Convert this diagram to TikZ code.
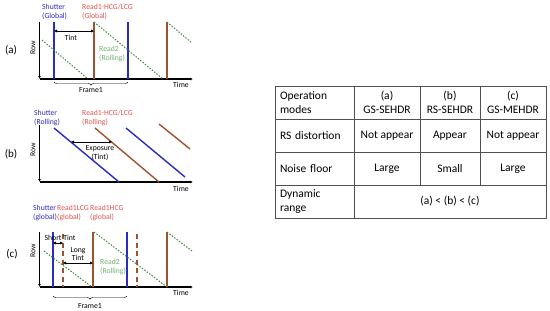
\documentclass[tikz,border=0pt]{standalone}
\usepackage{fontspec}
\setmainfont{Carlito}
\usetikzlibrary{arrows.meta,positioning,decorations.pathreplacing}
\definecolor{shblue}{HTML}{2B2BC0}
\definecolor{rdbrown}{HTML}{A0522D}
\definecolor{rdred}{HTML}{E0524E}
\definecolor{rdgreen}{HTML}{3E8E3E}
\definecolor{lbgreen}{HTML}{6FAF6F}
\definecolor{tabgray}{HTML}{505050}

\begin{document}
\begin{tikzpicture}[
 x=1pt,y=-1pt,>=Latex,
 axis/.style={line width=1.2pt,-{Latex[length=3pt,width=3pt]}},
 shut/.style={shblue,line width=1.4pt},
 rdone/.style={rdbrown,line width=1.4pt},
 rdtwo/.style={rdgreen,line width=1pt,dash pattern=on 1.5pt off 1.5pt},
 tint/.style={thin,{Latex[length=3pt,width=3pt]}-{Latex[length=3pt,width=3pt]}},
 lbl/.style={font=\fontsize{7.7}{8.7}\selectfont,inner sep=0pt,align=left},
 tag/.style={font=\fontsize{11}{13}\selectfont,inner sep=0pt},
 span/.style={decorate,decoration={brace,mirror,amplitude=3pt},thin},
 cell/.style={draw=tabgray,line width=0.7pt,anchor=north west,minimum height=33pt,inner sep=0pt,outer sep=0pt,align=center,font=\fontsize{11.5}{13.5}\selectfont},
 hcell/.style={cell,text width=69pt,inner xsep=5pt,align=left}
]
\useasboundingbox (0,0) rectangle (550,311);

% (a) GS-SEHDR
\node[tag] (taga) at (11,50) {(a)};
\coordinate (aT) at (39.5,22);
\coordinate (aO) at (39.5,79);
\coordinate (aX) at (193,79);
\draw[axis] (aT) -- (aO);
\draw[axis] (aO) -- (aX);
\node[lbl,rotate=90] (rowa) at (33,48) {Row};
\node[lbl] (timea) at (181,85) {Time};
\foreach \x in {54,128} \draw[shut] (\x,22) -- (\x,79);
\foreach \x in {94,167} \draw[rdone] (\x,22) -- (\x,79);
\draw[rdtwo] (42,40) -- (88,79);
\draw[rdtwo] (94,22) -- (163,79);
\draw[rdtwo] (167,22) -- (192,43);
\node[lbl,shblue,anchor=north west] (shuta) at (42,4) {Shutter\\(Global)};
\node[lbl,rdred,anchor=north west] (reada) at (82,4) {Read1-HCG/LCG\\(Global)};
\node[lbl,lbgreen,anchor=north west] (readb) at (99,46) {Read2\\(Rolling)};
\draw[tint] (54,31) -- (94,31);
\node[lbl] (tinta) at (71,38) {Tint};
\draw[span] (54,82) -- (128,82);
\node[lbl] (framea) at (91,90) {Frame1};

% (b) RS-SEHDR
\node[tag] (tagb) at (11,154) {(b)};
\coordinate (bT) at (39.5,125);
\coordinate (bO) at (39.5,182);
\coordinate (bX) at (193,182);
\draw[axis] (bT) -- (bO);
\draw[axis] (bO) -- (bX);
\node[lbl,rotate=90] (rowb) at (33,150) {Row};
\node[lbl] (timeb) at (181,189) {Time};
\draw[shut] (54,128) -- (119,182);
\draw[shut] (126,128) -- (185,177);
\draw[rdone] (95,128) -- (159,182);
\draw[rdone] (159,124) -- (190,149);
\node[lbl,shblue,anchor=north west] (shutb) at (34,110) {Shutter\\(Rolling)};
\node[lbl,rdred,anchor=north west] (readc) at (82,110) {Read1-HCG/LCG\\(Rolling)};
\draw[tint] (71,142) -- (112,142);
\node[lbl,align=center] (expb) at (100,153) {Exposure\\(Tint)};

% (c) GS-MEHDR
\node[tag] (tagc) at (12,254) {(c)};
\coordinate (cT) at (39.5,232);
\coordinate (cO) at (39.5,287);
\coordinate (cX) at (193,287);
\draw[axis] (cT) -- (cO);
\draw[axis] (cO) -- (cX);
\node[lbl,rotate=90] (rowc) at (33,251) {Row};
\node[lbl] (timec) at (181,293) {Time};
\foreach \x in {53,127} \draw[shut] (\x,232) -- (\x,287);
\foreach \x in {93,167} \draw[rdone] (\x,232) -- (\x,287);
\foreach \x in {63,137} \draw[rdone,dash pattern=on 5pt off 3.5pt] (\x,234) -- (\x,287);
\draw[rdtwo] (44,251) -- (92,287);
\draw[rdtwo] (94,232) -- (167,287);
\draw[rdtwo] (167,232) -- (192,251);
\node[lbl,shblue,anchor=north west] (shutc) at (33,205) {Shutter\\(global)};
\node[lbl,rdred,anchor=north west] (readd) at (57,205) {Read1LCG\\(global)};
\node[lbl,rdred,anchor=north west] (reade) at (90,205) {Read1HCG\\(global)};
\node[lbl,lbgreen,anchor=north west] (readf) at (100,259) {Read2\\(Rolling)};
\draw[tint] (53,243) -- (63,243);
\node[lbl] (tintc) at (60,238) {Short Tint};
\draw[tint] (63,263) -- (93,263);
\node[lbl,align=center] (tintd) at (78,254) {Long\\Tint};
\draw[span] (53,296) -- (127,296);
\node[lbl] (framec) at (90,306) {Frame1};

% comparison table
\node[hcell] (h0) at (275,86) {Operation\\modes};
\node[cell,minimum width=66pt] (h1) at (354,86) {(a)\\GS-SEHDR};
\node[cell,minimum width=60pt] (h2) at (420,86) {(b)\\RS-SEHDR};
\node[cell,minimum width=66pt] (h3) at (480,86) {(c)\\GS-MEHDR};
\node[hcell] (r0) at (275,119) {RS distortion};
\node[cell,minimum width=66pt] (r1) at (354,119) {Not appear};
\node[cell,minimum width=60pt] (r2) at (420,119) {Appear};
\node[cell,minimum width=66pt] (r3) at (480,119) {Not appear};
\node[hcell] (n0) at (275,152) {Noise floor};
\node[cell,minimum width=66pt] (n1) at (354,152) {Large};
\node[cell,minimum width=60pt] (n2) at (420,152) {Small};
\node[cell,minimum width=66pt] (n3) at (480,152) {Large};
\node[hcell] (d0) at (275,185) {Dynamic\\range};
\node[cell,minimum width=192pt] (d1) at (354,185) {(a) < (b) < (c)};
\end{tikzpicture}
\end{document}
